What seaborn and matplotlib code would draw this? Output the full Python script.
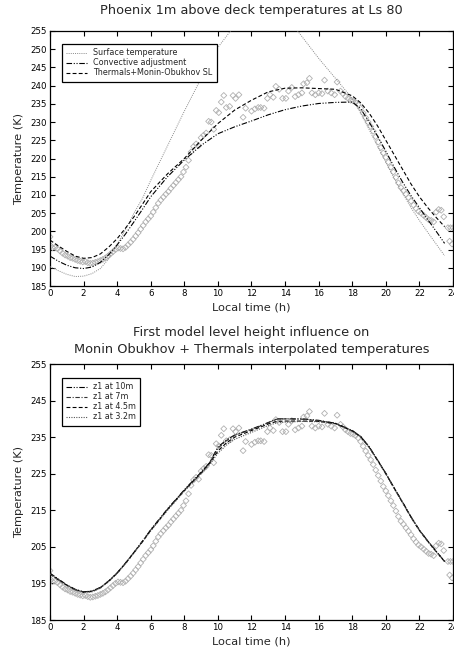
import numpy as np
import pandas as pd
import matplotlib
matplotlib.use("Agg")
import matplotlib.pyplot as plt
import seaborn as sns

# ---- Observations: Phoenix lander, 1 m above deck ----
obs_time = [0.00, 0.05, 0.15, 0.30, 0.45, 0.60, 0.75, 0.90, 1.05, 1.20, 1.35, 1.50,
            1.65, 1.80, 1.95, 2.10, 2.25, 2.40, 2.55, 2.70, 2.85, 3.00, 3.15, 3.30,
            3.45, 3.60, 3.75, 3.90, 4.05, 4.20, 4.35, 4.50, 4.65, 4.80, 4.95, 5.10,
            5.25, 5.40, 5.55, 5.70, 5.85, 6.00, 6.15, 6.30, 6.45, 6.60, 6.75, 6.90,
            7.05, 7.20, 7.35, 7.50, 7.65, 7.80, 7.95, 8.10, 8.25, 8.40, 8.55, 8.70,
            8.85, 9.00, 9.15, 9.30, 9.45, 9.60, 9.75, 9.90, 10.05, 10.20, 10.35, 10.50,
            10.70, 10.90, 11.05, 11.25, 11.50, 11.65, 12.00, 12.20, 12.40, 12.55, 12.75, 12.95,
            13.10, 13.30, 13.45, 13.65, 13.85, 14.05, 14.20, 14.40, 14.60, 14.80, 15.00, 15.10,
            15.30, 15.45, 15.60, 15.80, 16.00, 16.20, 16.35, 16.55, 16.75, 16.95, 17.10, 17.30,
            17.45, 17.60, 17.75, 17.90, 18.05, 18.20, 18.35, 18.50, 18.65, 18.80, 18.95, 19.10,
            19.25, 19.40, 19.55, 19.70, 19.85, 20.00, 20.15, 20.30, 20.45, 20.60, 20.75, 20.90,
            21.05, 21.20, 21.35, 21.50, 21.65, 21.80, 21.95, 22.10, 22.25, 22.40, 22.55, 22.70,
            22.85, 23.00, 23.15, 23.30, 23.45, 23.70, 23.85, 24.00, 23.80, 23.95]
obs_temp = [198.5, 196.0, 195.5, 195.6, 195.2, 194.6, 194.0, 193.5, 193.2, 192.8, 192.6, 192.3,
            192.0, 191.8, 191.6, 191.7, 191.4, 191.2, 191.3, 191.5, 191.7, 192.0, 192.3, 192.7,
            193.2, 193.8, 194.4, 195.0, 195.4, 195.3, 195.2, 195.6, 196.3, 197.0, 197.8, 198.7,
            199.6, 200.6, 201.6, 202.6, 203.4, 204.2, 205.3, 206.5, 207.7, 208.6, 209.4, 210.2,
            210.9, 211.8, 212.6, 213.4, 214.2, 215.0, 216.3, 217.6, 219.5, 221.8, 223.3, 224.0,
            223.5, 225.7, 226.4, 227.0, 230.2, 230.0, 228.0, 233.2, 232.6, 235.5, 237.3, 234.0,
            234.3, 237.3, 236.5, 237.5, 231.3, 233.8, 233.0, 233.6, 234.0, 234.0, 233.8, 236.5,
            237.5, 236.8, 239.8, 239.0, 236.5, 236.5, 238.5, 239.5, 237.0, 237.5, 238.0, 240.5,
            240.8, 242.0, 238.0, 237.5, 238.0, 237.8, 241.5, 238.5, 238.0, 237.5, 241.0, 238.5,
            237.8, 237.0, 236.5, 236.0, 235.8, 235.4, 234.8, 233.8, 232.5, 231.2, 230.0, 228.8,
            227.5, 226.0, 224.5, 223.0, 221.5, 220.3, 219.0, 217.6, 216.3, 214.8, 213.3, 212.0,
            211.2, 210.2, 209.3, 208.3, 207.2, 206.3, 205.5, 205.0, 204.4, 203.8, 203.2, 203.0,
            202.6, 205.3, 206.0, 205.8, 204.0, 201.0, 201.0, 201.0, 197.3, 196.5]

# ---- Model runs, top panel ----
model_time = [0.0, 0.5, 1.0, 1.5, 2.0, 2.5, 3.0, 3.5, 4.0, 4.5, 5.0, 5.5, 6.0, 7.0, 8.0,
              9.0, 10.0, 11.0, 12.0, 13.0, 14.0, 15.0, 16.0, 17.0, 18.0, 18.5, 19.0,
              19.5, 20.0, 20.5, 21.0, 21.5, 22.0, 22.5, 23.0, 23.5]
surface_temp = [190.3, 189.2, 188.2, 187.6, 187.7, 188.4, 189.8, 192.5, 196.5, 200.5, 205.0,
                209.0, 214.0, 223.5, 233.0, 242.0, 250.5, 256.5, 260.5, 261.5, 259.5, 253.5,
                247.5, 242.0, 236.5, 232.5, 228.0, 223.5, 219.0, 214.5, 210.5, 206.5, 203.0,
                199.7, 196.5, 193.3]
convective_adj = [193.2, 191.8, 190.7, 190.0, 189.8, 190.2, 191.5, 193.6, 196.3, 199.3, 202.6,
                  206.0, 209.5, 215.0, 219.6, 223.6, 226.8, 228.7, 230.3, 232.0, 233.4, 234.4,
                  235.1, 235.4, 235.5, 233.7, 230.0, 226.2, 222.0, 217.6, 213.5, 209.8, 206.5,
                  203.2, 200.0, 196.7]
thermals_mo = [197.6, 196.0, 194.5, 193.2, 192.6, 192.8, 193.8, 195.7, 198.0, 200.9, 204.0,
               207.4, 210.9, 215.8, 220.0, 225.0, 229.6, 233.3, 236.0, 238.3, 239.3, 239.4,
               239.2, 239.0, 237.2, 235.3, 232.5, 229.0, 225.0, 221.0, 217.0, 213.0, 209.5,
               206.5, 203.8, 201.3]

# ---- Model runs, bottom panel (height of first model level) ----
z1_time = [0.0, 0.5, 1.0, 1.5, 2.0, 2.5, 3.0, 3.5, 4.0, 4.5, 5.0, 5.5, 6.0, 7.0, 8.0,
           9.0, 9.5, 10.0, 10.5, 11.0, 12.0, 13.0, 13.5, 14.0, 15.0, 16.0, 17.0, 18.0,
           18.5, 19.0, 19.5, 20.0, 20.5, 21.0, 21.5, 22.0, 22.5, 23.0, 23.5]
z1_10m = [197.8, 196.2, 194.6, 193.4, 192.7, 192.9, 193.9, 195.7, 197.9, 200.6, 203.5,
          206.5, 209.7, 215.4, 220.6, 225.4, 228.0, 232.3, 234.2, 235.6, 237.2, 239.0, 240.0,
          240.0, 240.0, 239.6, 238.8, 236.8, 235.2, 232.4, 228.8, 225.1, 221.1, 217.2,
          213.2, 209.6, 206.6, 203.8, 201.0]
z1_7m = [197.7, 196.1, 194.5, 193.3, 192.7, 192.9, 193.9, 195.7, 197.9, 200.6, 203.5,
         206.5, 209.6, 215.3, 220.5, 225.3, 228.0, 232.0, 234.0, 235.5, 237.1, 238.9, 239.9,
         240.0, 239.9, 239.5, 238.8, 236.8, 235.2, 232.4, 228.8, 225.1, 221.1, 217.2,
         213.2, 209.6, 206.6, 203.8, 201.0]
z1_4p5m = [197.6, 196.0, 194.5, 193.3, 192.6, 192.8, 193.8, 195.6, 197.8, 200.5, 203.4,
           206.4, 209.5, 215.2, 220.4, 225.2, 227.8, 231.2, 233.4, 235.0, 236.8, 238.6, 239.3,
           239.4, 239.4, 239.3, 238.7, 236.7, 235.1, 232.3, 228.7, 225.0, 221.0, 217.1,
           213.1, 209.5, 206.5, 203.7, 201.0]
z1_3p2m = [197.5, 195.9, 194.4, 193.2, 192.5, 192.7, 193.7, 195.5, 197.7, 200.4, 203.3,
           206.3, 209.4, 215.0, 220.2, 225.0, 227.5, 230.6, 232.8, 234.4, 236.3, 238.2, 238.9,
           239.1, 239.3, 239.2, 238.6, 236.6, 235.0, 232.2, 228.6, 224.9, 220.9, 217.0,
           213.0, 209.4, 206.4, 203.6, 201.0]

sns.set_style("ticks")
plt.rcParams["font.family"] = ["DejaVu Sans"]

fig = plt.figure(figsize=(4.54, 6.56), dpi=100)
W, H = 454.0, 656.0
ax1 = fig.add_axes([50 / W, 1 - 286 / H, 403 / W, 255 / H])
ax2 = fig.add_axes([50 / W, 1 - 620 / H, 403 / W, 256 / H])

DASH_DOT_DOT = (5, 1.5, 1, 1.5, 1, 1.5)
DASH_DOT = (4, 1.5, 1, 1.5)
DASHED = (3.5, 2)
DOTTED = (1, 1.2)


def draw_obs(ax):
    sns.scatterplot(x=obs_time, y=obs_temp, ax=ax, marker="D", s=9,
                    facecolor="none", edgecolor="#b0b0b0", linewidth=0.6,
                    zorder=1, legend=False)


def draw_line(ax, x, y, label, dashes, color="black", lw=0.8):
    sns.lineplot(x=x, y=y, ax=ax, color=color, linewidth=lw, label=label,
                 zorder=3, estimator=None, sort=False)
    ax.lines[-1].set_dashes(dashes)


def style_axes(ax, yticks):
    ax.set_xlim(0, 24)
    ax.set_ylim(185, 255)
    ax.set_xticks(range(0, 25, 2))
    ax.set_yticks(yticks)
    ax.tick_params(direction="in", top=True, right=True, labelsize=6.2,
                   length=3.5, width=0.8, pad=2.5, colors="black")
    for s in ax.spines.values():
        s.set_linewidth(0.9)
        s.set_color("black")
    ax.set_xlabel("Local time (h)", fontsize=8.2, labelpad=3)
    ax.set_ylabel("Temperature (K)", fontsize=8.2, labelpad=4)


def style_legend(ax, anchor):
    leg = ax.legend(loc="upper left", bbox_to_anchor=anchor, fontsize=5.8,
                    frameon=True, fancybox=False, borderaxespad=0,
                    handlelength=2.6, handletextpad=0.7, labelspacing=0.12,
                    borderpad=0.55)
    fr = leg.get_frame()
    fr.set_edgecolor("black")
    fr.set_linewidth(0.9)
    fr.set_alpha(1)


# Top panel
draw_obs(ax1)
draw_line(ax1, model_time, surface_temp, "Surface temperature", DOTTED, color="#8a8a8a", lw=0.7)
draw_line(ax1, model_time, convective_adj, "Convective adjustment", DASH_DOT_DOT)
draw_line(ax1, model_time, thermals_mo, "Thermals+Monin-Obukhov SL", DASHED)
style_axes(ax1, range(185, 256, 5))
style_legend(ax1, (12 / 403, 1 - 13 / 255))
ax1.set_title("Phoenix 1m above deck temperatures at Ls 80", fontsize=9.3, pad=12)

# Bottom panel
draw_obs(ax2)
draw_line(ax2, z1_time, z1_10m, "z1 at 10m", DASH_DOT_DOT)
draw_line(ax2, z1_time, z1_7m, "z1 at 7m", DASH_DOT, color="#333333")
draw_line(ax2, z1_time, z1_4p5m, "z1 at 4.5m", DASHED)
draw_line(ax2, z1_time, z1_3p2m, "z1 at 3.2m", DOTTED, color="#555555")
style_axes(ax2, range(185, 256, 10))
style_legend(ax2, (12 / 403, 1 - 14 / 256))
ax2.set_title("First model level height influence on\nMonin Obukhov + Thermals interpolated temperatures",
              fontsize=9.3, pad=8, linespacing=1.35)

fig.savefig("out.png", dpi=100)
